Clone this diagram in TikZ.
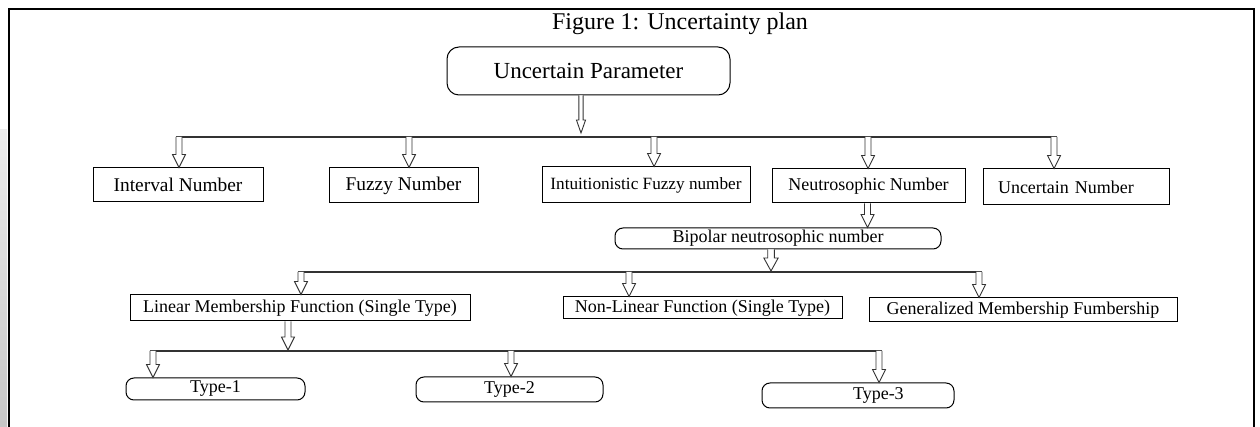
\documentclass[tikz,border=0pt]{standalone}
\usepackage{fontspec}
\setmainfont{Liberation Serif}
\usetikzlibrary{calc}

% hollow block arrow pointing down: [width factor]{top}{tip}
\newcommand{\blockdown}[3][1]{%
  \draw[arrowline] ($(#2)+(-3*#1,0)$) -- ($(#3)+(-3*#1,-13)$) -- ($(#3)+(-6.5*#1,-13)$)
    -- (#3) -- ($(#3)+(6.5*#1,-13)$) -- ($(#3)+(3*#1,-13)$) -- ($(#2)+(3*#1,0)$);
}

\begin{document}
\begin{tikzpicture}[x=0.5pt,y=-0.5pt,
  box/.style={draw,line width=0.5pt,inner sep=0pt,font=\fontsize{9}{11}\selectfont},
  rbox/.style={box,rounded corners=4pt},
  arrowline/.style={line width=0.45pt,draw=black!80,fill=white,line join=miter},
  bus/.style={line width=0.6pt,black!80}]
\useasboundingbox (0,0) rectangle (1260,427);

% page edge and frame
\shade[top color=gray!15,bottom color=gray!45] (0,130) rectangle (7,427);
\draw[line width=1.2pt] (9,427) -- (9,9) -- (1254,9) -- (1254,427);

\node[font=\fontsize{12}{14}\selectfont] (title) at (680,24) {Figure 1: Uncertainty plan};

\node[rbox,rounded corners=6pt,minimum width=141.5pt,minimum height=24pt,
  font=\fontsize{11.5}{13}\selectfont] (param) at (588.5,71) {Uncertain Parameter};

% first level
\node[box,minimum width=85pt,minimum height=17pt,font=\fontsize{9.7}{11}\selectfont] (interval) at (178,185) {Interval Number};
\node[box,minimum width=74.5pt,minimum height=17.5pt,font=\fontsize{9.7}{11}\selectfont] (fuzzy) at (403.5,185.5) {Fuzzy Number};
\node[box,minimum width=104pt,minimum height=18pt,font=\fontsize{8.6}{10}\selectfont] (intuit) at (646,185) {Intuitionistic Fuzzy number};
\node[box,minimum width=96.5pt,minimum height=17pt] (neutro) at (868.5,186) {Neutrosophic Number};
\node[box,text width=78pt,inner xsep=7.5pt,align=left,minimum height=18pt] (uncnum) at (1076,187) {Uncertain Number};

\node[rbox,minimum width=163pt,minimum height=10.5pt] (bipolar) at (778,238.5) {Bipolar neutrosophic number};

% membership functions
\node[box,minimum width=170pt,minimum height=13pt] (linear) at (300,308) {Linear Membership Function (Single Type)};
\node[box,minimum width=139.5pt,minimum height=11pt] (nonlin) at (702.5,308) {Non-Linear Function (Single Type)};
\node[box,minimum width=154pt,minimum height=12pt] (general) at (1023,310) {Generalized Membership Fumbership};

% types
\node[rbox,minimum width=89.5pt,minimum height=11pt] (type1) at (215.5,389) {Type-1};
\node[rbox,minimum width=93.5pt,minimum height=12.5pt] (type2) at (509.5,389.5) {Type-2};
\node[rbox,text width=96pt,align=left,minimum height=12.5pt] (type3) at (858,395.5) {\hspace*{45.5pt}Type-3};

% bus 1
\foreach \n/\x in {interval/179, fuzzy/409, intuit/654, neutro/868, uncnum/1054}
  {
  \coordinate (t\n) at (\x,137);
  \coordinate (h\n) at (\n.north -| t\n);
  }
\draw[bus] ($(tinterval)+(-3,0)$) -- ($(tuncnum)+(3,0)$);
\foreach \n in {interval, fuzzy, intuit, neutro, uncnum}
  {\blockdown{t\n}{h\n}}
\coordinate (psrc) at ($(param.south)+(-7.5,0)$);
\coordinate (ptip) at ($(psrc |- tinterval)+(0,-4)$);
\blockdown[0.7]{psrc}{ptip}

% neutrosophic to bipolar
\coordinate (nsrc) at ($(neutro.south)+(-1,0)$);
\coordinate (ntip) at (nsrc |- bipolar.north);
\blockdown{nsrc}{ntip}

% bus 2
\foreach \n/\x in {linear/301, nonlin/629, general/979}
  {
  \coordinate (t\n) at (\x,272);
  \coordinate (h\n) at (\n.north -| t\n);
  }
\draw[bus] ($(tlinear)+(-3,0)$) -- ($(tgeneral)+(3,0)$);
\foreach \n in {linear, nonlin, general}
  {\blockdown{t\n}{h\n}}
\coordinate (bsrc) at ($(bipolar.south)+(-7,0)$);
\coordinate (btip) at ($(bsrc |- tlinear)+(0,-1)$);
\blockdown[1.1]{bsrc}{btip}

% bus 3
\foreach \n/\x in {type1/153, type2/511, type3/879}
  {
  \coordinate (t\n) at (\x,351);
  \coordinate (h\n) at (\n.north -| t\n);
  }
\draw[bus] ($(ttype1)+(-3,0)$) -- ($(ttype3)+(3,0)$);
\foreach \n in {type1, type2, type3}
  {\blockdown{t\n}{h\n}}
\coordinate (lsrc) at ($(linear.south)+(-12,0)$);
\coordinate (ltip) at ($(lsrc |- ttype1)+(0,-1)$);
\blockdown{lsrc}{ltip}
\end{tikzpicture}
\end{document}
